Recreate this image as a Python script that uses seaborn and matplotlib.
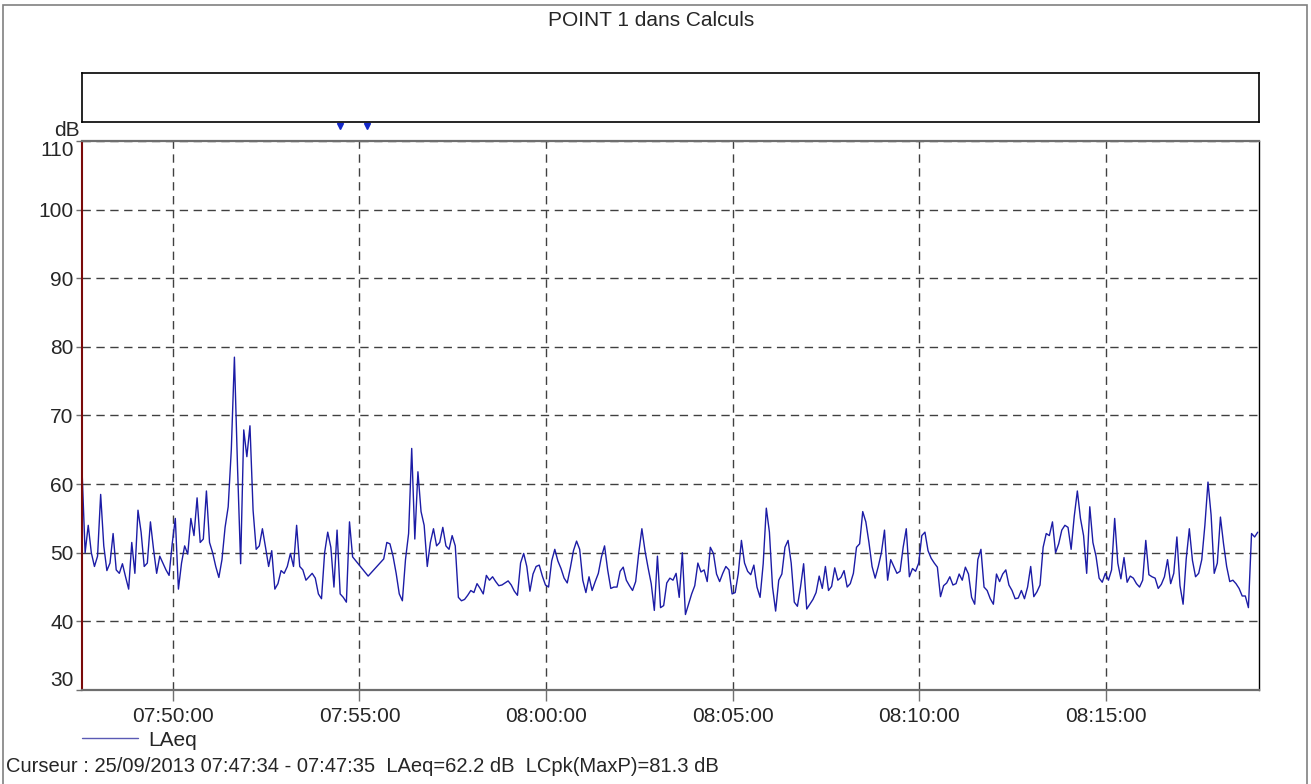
import numpy as np
import pandas as pd
import matplotlib
matplotlib.use("Agg")
import matplotlib.pyplot as plt
import matplotlib.dates as mdates
import matplotlib.transforms as mtransforms
from matplotlib.patches import Rectangle
import seaborn as sns

sns.set_theme(style="white")
plt.rcParams['font.family'] = ['Liberation Sans', 'DejaVu Sans']

# Mesure POINT 1 : LAeq toutes les 5 s (nan = pas de donnee)
debut = "2013-09-25 07:47:34"
pas_s = 5
nan = np.nan
laeq = [
    62.2, 50, 54, 50, 48, 49.5, 58.5, 51, 47.4, 48.5,
    52.8, 47.5, 47, 48.4, 46.5, 44.7, 51.5, 47, 56.2, 53,
    48, 48.5, 54.5, 50.5, 47, 49.5, 48.5, 47.5, 46.7, 51.3,
    55, 44.7, 48.5, 51, 49.8, 55, 52.5, 58, 51.5, 52,
    59, 51.5, 50, 48, 46.4, 49, 53.7, 56.7, 65, 78.5,
    62.5, 48.4, 67.9, 64, 68.5, 56.2, 50.5, 51, 53.5, 50.8,
    48, 50.3, 44.7, 45.5, 47.4, 47, 48, 49.9, 48, 54,
    48, 47.5, 46, 46.5, 47, 46.3, 44, 43.3, 50, 53,
    50.8, 45, 53.3, 44, 43.5, 42.8, 54.5, 49.4, nan, nan,
    nan, nan, 46.6, nan, nan, nan, nan, 49.1, 51.5, 51.3,
    49.5, 47, 44, 43, 49, 52.8, 65.2, 52, 61.8, 56,
    54, 48, 51.5, 53.5, 51, 51.5, 53.7, 51, 50.5, 52.5,
    51, 43.5, 43, 43.2, 43.8, 44.5, 44.2, 45.5, 44.8, 44,
    46.7, 46, 46.5, 45.8, 45.2, 45.3, 45.6, 45.9, 45.3, 44.4,
    43.8, 48.5, 49.9, 48, 44.4, 46.9, 48, 48.2, 46.6, 45.3,
    45, 48.8, 50.5, 48.8, 47.7, 46.3, 45.6, 47.8, 50.3, 51.7,
    50.5, 46, 44.2, 46.5, 44.5, 45.8, 47, 49.4, 51, 47.5,
    44.8, 45, 45, 47.3, 47.9, 46, 45.2, 44.5, 45.8, 50,
    53.5, 50.3, 47.8, 45.5, 41.6, 49.5, 42, 42.3, 45.6, 46.3,
    46, 47, 43.5, 50, 41, 42.5, 44, 45.2, 48.5, 47.2,
    47.5, 45.8, 50.8, 49.9, 46.9, 45.8, 47, 48, 47.5, 44,
    44.2, 47, 51.8, 48.5, 47.3, 46.8, 48.2, 45, 43.5, 48.4,
    56.5, 53, 45, 41.5, 46, 46.9, 50.8, 51.8, 48.5, 42.8,
    42.2, 45, 48.4, 41.8, 42.5, 43.2, 44.2, 46.6, 44.8, 48,
    44.5, 45.1, 47.8, 46, 46.4, 47.4, 45, 45.5, 47, 50.8,
    51.3, 56, 54.5, 51.5, 48, 46.3, 48, 50, 53.3, 46,
    49, 48, 47, 47.3, 50.8, 53.5, 46.5, 47.7, 47.3, 48.5,
    52.5, 53, 50.3, 49.2, 48.5, 47.9, 43.6, 45.2, 45.6, 46.5,
    45.3, 45.5, 46.9, 46, 47.9, 46.9, 43.5, 42.5, 49, 50.5,
    45, 44.5, 43.3, 42.5, 46.9, 45.8, 46.9, 47.5, 45.3, 44.5,
    43.3, 43.4, 44.5, 43.3, 45, 48, 43.6, 44.3, 45.3, 50.8,
    52.8, 52.5, 54.5, 50, 51.3, 53.3, 54, 53.7, 50.5, 55.3,
    59, 55, 52.5, 47, 56.7, 51.5, 49.5, 46.3, 45.7, 47,
    46, 47.5, 55, 48.5, 46.2, 49.3, 45.7, 46.6, 46.3, 45.5,
    45, 46, 51.8, 46.8, 46.5, 46.3, 44.8, 45.4, 46.5, 49,
    45.5, 47, 52.3, 45.2, 42.5, 49.1, 53.5, 48.9, 46.5, 47,
    49, 54, 60.3, 55.5, 47, 48.5, 55.2, 51.3, 48, 45.8,
    46, 45.5, 44.8, 43.7, 43.7, 42, 52.8, 52.3, 53,
]
marqueurs = ["2013-09-25 07:54:29", "2013-09-25 07:55:12"]
curseur = "2013-09-25 07:47:34"
curseur_fin = "07:47:35"
curseur_laeq = 62.2
curseur_lcpk = 81.3
fin_axe = "2013-09-25 08:19:06"
graduations_db = [30, 40, 50, 60, 70, 80, 90, 100, 110]

t0 = pd.Timestamp(debut)
df = pd.DataFrame({
    "temps": t0 + pd.to_timedelta(np.arange(len(laeq)) * pas_s, unit="s"),
    "LAeq": laeq,
}).dropna()

W, H = 1311, 784
fig = plt.figure(figsize=(W / 100, H / 100), dpi=100)
ax = fig.add_axes([82 / W, 1 - 690 / H, 1177 / W, 549 / H])

sns.lineplot(data=df, x="temps", y="LAeq", ax=ax, color="#1c1ca6",
             linewidth=1.0, label="LAeq", estimator=None)
h, l = ax.get_legend_handles_labels()

ax.set_xlim(t0, pd.Timestamp(fin_axe))
ax.set_ylim(graduations_db[0], graduations_db[-1])
ax.set_xlabel("")
ax.set_ylabel("")
ax.xaxis.set_major_locator(mdates.MinuteLocator(byminute=range(0, 60, 5)))
ax.xaxis.set_major_formatter(mdates.DateFormatter("%H:%M:%S"))
ax.set_yticks(graduations_db)
ax.set_yticklabels([str(v) for v in graduations_db])
for lab in ax.get_yticklabels():
    if lab.get_text() == "110":
        lab.set_va("top")
    elif lab.get_text() == "30":
        lab.set_va("bottom")

ax.grid(True, color="#404040", linestyle=(0, (6, 4)), linewidth=1.0)
ax.tick_params(axis="x", bottom=True, length=8, width=1, color="#707070",
               labelsize=15, pad=4)
ax.tick_params(axis="y", left=True, length=4, width=1, color="#707070",
               labelsize=15, pad=2)

for s in ["top", "bottom"]:
    ax.spines[s].set_color("#6e6e6e")
    ax.spines[s].set_linewidth(1.6)
ax.spines["right"].set_color("black")
ax.spines["right"].set_linewidth(1.0)
ax.spines["left"].set_color("#7a0a0a")

# curseur
ax.axvline(pd.Timestamp(curseur), color="#7a0a0a", linewidth=1.5, clip_on=False)

# marqueurs au-dessus du graphe
trans = mtransforms.blended_transform_factory(ax.transData, ax.transAxes)
ax.plot(mdates.date2num(pd.to_datetime(marqueurs)), [1.027] * len(marqueurs),
        "v", color="#1428c8", markersize=5, transform=trans, clip_on=False)

leg = ax.legend(h[:1], l[:1], loc="center left",
                bbox_to_anchor=(82 / W, 1 - 740 / H), bbox_transform=fig.transFigure,
                frameon=False, fontsize=15, handlelength=2.7, handletextpad=0.5,
                borderpad=0, borderaxespad=0)
leg.get_lines()[0].set_color("#5a5ab4")
leg.get_lines()[0].set_linewidth(1.0)

# bandeau vide du haut
bande = fig.add_axes([82 / W, 1 - 122 / H, 1177 / W, 49 / H])
bande.set_xticks([])
bande.set_yticks([])
for s in bande.spines.values():
    s.set_color("black")
    s.set_linewidth(1.2)

fig.text(0.497, 1 - 21 / H, "POINT 1 dans Calculs", ha="center", va="center", fontsize=15)
fig.text(80 / W, 1 - 130 / H, "dB", ha="right", va="center", fontsize=15)
fig.text(6 / W, 1 - 767 / H,
         f"Curseur : {pd.Timestamp(curseur):%d/%m/%Y %H:%M:%S} - {curseur_fin}  "
         f"LAeq={curseur_laeq} dB  LCpk(MaxP)={curseur_lcpk} dB",
         ha="left", va="center", fontsize=14.5)

fig.add_artist(Rectangle((3 / W, -0.01), 1304 / W, 1.01 - 5 / H,
                         transform=fig.transFigure, fill=False,
                         edgecolor="#808080", linewidth=1.2))

fig.savefig("out.png", dpi=100)
